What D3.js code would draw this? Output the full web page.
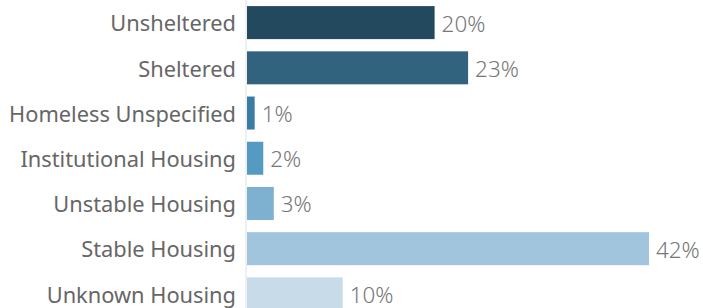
<!DOCTYPE html>
<html>
<head>
<meta charset="utf-8">
<script src="https://cdn.jsdelivr.net/npm/d3@7"></script>
<style>
  body { margin: 0; background: #fff; }
  svg { display: block; }
</style>
</head>
<body>
<script>
var categories = [
  "Unsheltered",
  "Sheltered",
  "Homeless Unspecified",
  "Institutional Housing",
  "Unstable Housing",
  "Stable Housing",
  "Unknown Housing"
];
var shares = [19.6, 23.1, 0.8, 1.7, 2.8, 42.0, 10.0];
var valueLabels = ["20%", "23%", "1%", "2%", "3%", "42%", "10%"];
var colors = ["#23495e", "#31637f", "#3a7ca5", "#559ac0", "#7eb0d0", "#a1c5dc", "#c7dce8"];

var width = 703, height = 308;
var x0 = 247;

var data = categories.map(function (c, i) {
  return { name: c, value: shares[i], label: valueLabels[i], color: colors[i] };
});

var svg = d3.select("body").append("svg")
  .attr("width", width)
  .attr("height", height);

// x scale: percent -> pixels
var x = d3.scaleLinear().domain([0, 42]).range([x0, 649]);

// band per row
var y = d3.scaleBand()
  .domain(categories)
  .range([0, 316.5])
  .paddingInner(0.27)
  .paddingOuter(0.135);

// light axis line
svg.append("rect")
  .attr("x", 245)
  .attr("y", 0)
  .attr("width", 2)
  .attr("height", height)
  .attr("fill", "#f0f0f0");

svg.selectAll(".bar")
  .data(data)
  .enter().append("rect")
  .attr("class", "bar")
  .attr("x", x(0))
  .attr("y", function (d) { return y(d.name); })
  .attr("width", function (d) { return x(d.value) - x(0); })
  .attr("height", y.bandwidth())
  .attr("fill", function (d) { return d.color; });

svg.selectAll(".cat")
  .data(data)
  .enter().append("text")
  .attr("class", "cat")
  .attr("x", 236)
  .attr("y", function (d) { return y(d.name) + y.bandwidth() / 2; })
  .attr("dy", "0.4em")
  .attr("text-anchor", "end")
  .attr("font-family", "'Noto Sans', sans-serif")
  .attr("font-size", 21.8)
  .attr("fill", "#666")
  .text(function (d) { return d.name; });

svg.selectAll(".val")
  .data(data)
  .enter().append("text")
  .attr("class", "val")
  .attr("x", function (d) { return x(d.value) + 7; })
  .attr("y", function (d) { return y(d.name) + y.bandwidth() / 2; })
  .attr("dy", "0.4em")
  .attr("font-family", "'Noto Sans', sans-serif")
  .attr("font-weight", 300)
  .attr("font-size", 22.4)
  .attr("fill", "#777")
  .text(function (d) { return d.label; });
</script>
</body>
</html>
